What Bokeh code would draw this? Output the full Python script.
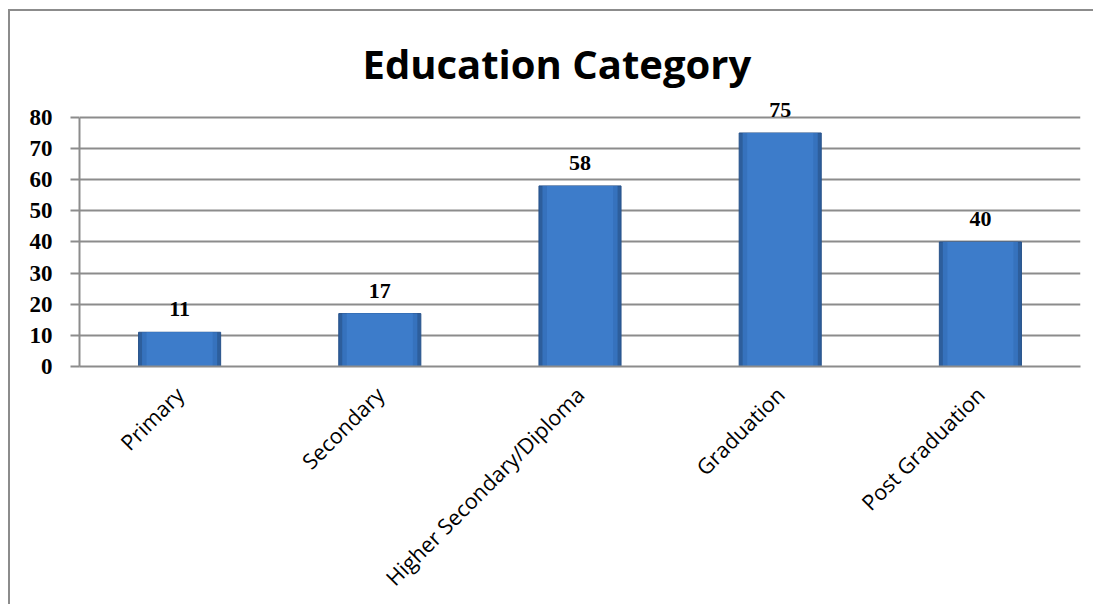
from bokeh.plotting import figure
from bokeh.models import Range1d, FactorRange, ColumnDataSource, FixedTicker, LabelSet
from bokeh.embed import file_html
from bokeh.resources import INLINE
from bokeh.core.properties import value

categories = ["Primary", "Secondary", "Higher Secondary/Diploma", "Graduation", "Post Graduation"]
counts = [11, 17, 58, 75, 40]
y_ticks = [0, 10, 20, 30, 40, 50, 60, 70, 80]
title_text = "Education Category"

src = ColumnDataSource(dict(cat=categories, val=counts, lbl=[str(v) for v in counts]))

p = figure(width=1085, height=595, output_backend="svg", toolbar_location=None,
           x_range=FactorRange(*categories, range_padding=0), y_range=Range1d(0, 88),
           min_border_left=69, min_border_right=15, min_border_top=81, min_border_bottom=240)

p.title.text = title_text
p.title.align = "left"
p.title.text_font = "Open Sans"
p.title.text_font_size = "40px"
p.title.text_font_style = "bold"
p.title.text_color = "black"
p.title.offset = 283
p.title.standoff = 4

# bars: layered fills to suggest the shaded look of the original
p.vbar(x="cat", top="val", width=0.41, source=src, fill_color="#2D5E9C",
       line_color="#27528A", line_width=1)
p.vbar(x="cat", top="val", width=0.375, source=src, fill_color="#3672BD",
       line_color=None)
p.vbar(x="cat", top="val", width=0.33, source=src, fill_color="#3D7CCA",
       line_color=None)

labels = LabelSet(x="cat", y="val", text="lbl", source=src, text_align="center",
                  text_baseline="bottom", y_offset=16, text_font=value("Liberation Serif"),
                  text_font_size="22px", text_font_style="bold", text_color="black")
p.add_layout(labels)

p.outline_line_color = None
p.background_fill_color = "white"
p.border_fill_color = "white"

p.xgrid.grid_line_color = None
p.ygrid.grid_line_color = "#8C8C8C"
p.ygrid.grid_line_width = 2
p.ygrid.ticker = FixedTicker(ticks=y_ticks)

p.yaxis.ticker = FixedTicker(ticks=y_ticks)
p.yaxis.bounds = (0, 80)
p.yaxis.axis_line_color = "#8C8C8C"
p.yaxis.axis_line_width = 2
p.yaxis.major_tick_line_color = "#8C8C8C"
p.yaxis.major_tick_line_width = 2
p.yaxis.major_tick_out = 9
p.yaxis.major_tick_in = 0
p.yaxis.minor_tick_line_color = None
p.yaxis.major_label_standoff = 18
p.yaxis.major_label_text_font = "Liberation Serif"
p.yaxis.major_label_text_font_style = "bold"
p.yaxis.major_label_text_font_size = "23px"
p.yaxis.major_label_text_color = "black"

p.xaxis.axis_line_color = "#8C8C8C"
p.xaxis.axis_line_width = 2
p.xaxis.major_tick_line_color = None
p.xaxis.minor_tick_line_color = None
p.xaxis.major_label_orientation = 0.785398
p.xaxis.major_label_standoff = 18
p.xaxis.major_label_text_font = "Open Sans"
p.xaxis.major_label_text_font_size = "21.5px"
p.xaxis.major_label_text_color = "black"

p.styles = {"border-left": "2px solid #8C8C8C", "border-top": "2px solid #8C8C8C",
            "margin-left": "8px", "margin-top": "9px"}

open("out.html", "w").write(file_html(p, INLINE))
